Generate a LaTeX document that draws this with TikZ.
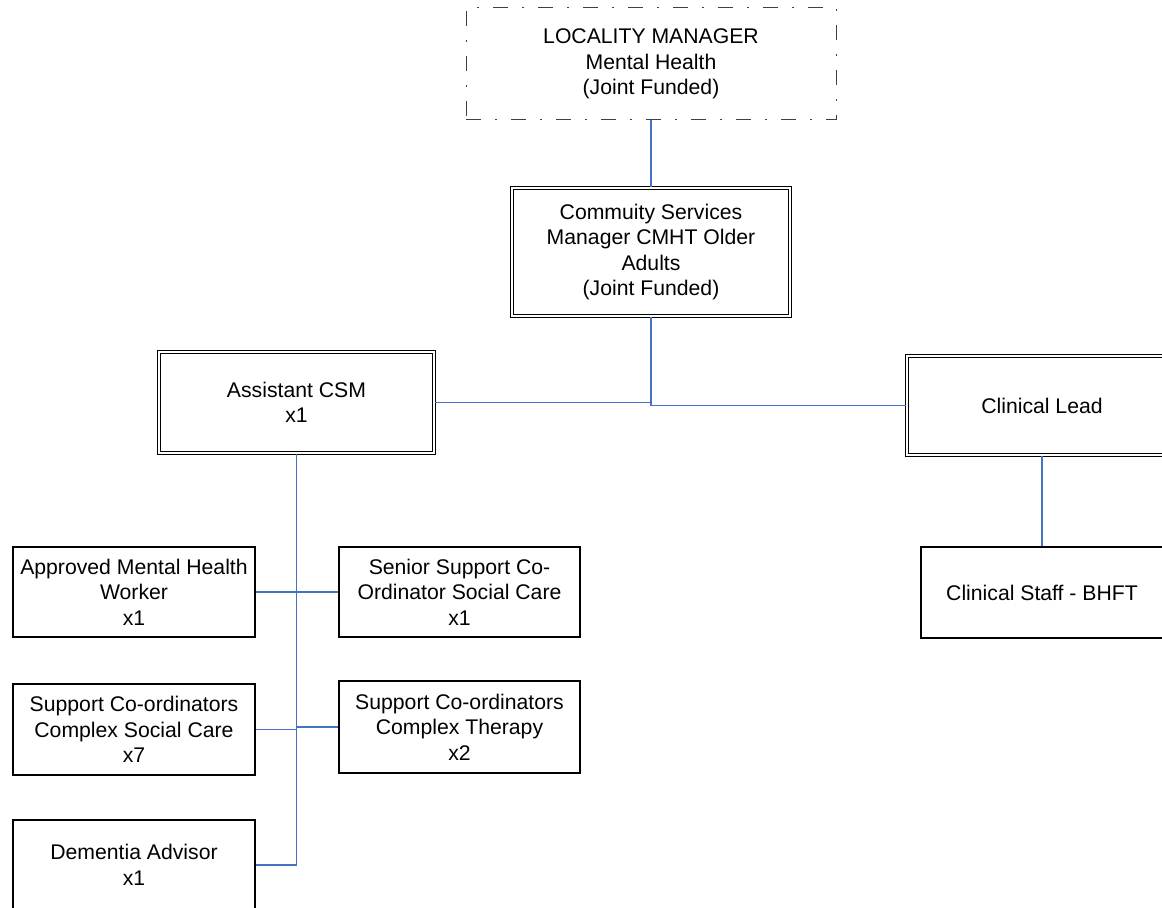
\documentclass[tikz,border=0pt]{standalone}
\usepackage{fontspec}
\setmainfont{Liberation Sans}
\usetikzlibrary{positioning}
\definecolor{linkblue}{RGB}{68,114,196}

\begin{document}
\begin{tikzpicture}[x=0.5pt, y=-0.5pt, node distance=60pt, on grid,
    font=\fontsize{10.6}{12.8}\selectfont,
    box/.style={draw, line width=0.7pt, align=center, inner sep=0pt,
      minimum width=121pt, minimum height=45pt},
    dbox/.style={box, double, double distance=1.2pt, line width=0.55pt},
    dashbox/.style={draw=black!75, line width=0.5pt, align=center,
      dash pattern=on 7.5pt off 7pt on 1pt off 7pt,
      minimum width=185pt, minimum height=56pt},
    link/.style={draw=linkblue, line width=0.8pt}]
  \useasboundingbox (0,0) rectangle (1162,908);%
  \node[dashbox] (loc) at (651,64) {LOCALITY MANAGER\\Mental Health\\(Joint Funded)};%
  \node[dbox, minimum width=139pt, minimum height=64pt] (csm) [below=94pt of loc]
    {Commuity Services\\Manager CMHT Older\\Adults\\(Joint Funded)};%
  \node[dbox, minimum width=137.5pt, minimum height=50.5pt] (acsm)
    [below left=75.25pt and 177.25pt of csm] {Assistant CSM\\x1};%
  \node[dbox, minimum width=135pt, minimum height=49.5pt] (lead)
    [below right=76.75pt and 195.5pt of csm] {Clinical Lead};%
  \node[box, minimum height=45.5pt] (staff) [below=93.5pt of lead] {Clinical Staff - BHFT};%
  \node[box] (amhw) [below left=94.75pt and 81.25pt of acsm]
    {Approved Mental Health\\Worker\\x1};%
  \node[box, minimum width=120.5pt] (ssc) [right=162.75pt of amhw]
    {Senior Support Co-\\Ordinator Social Care\\x1};%
  \node[box, minimum height=45.5pt] (scsc) [below=68.75pt of amhw]
    {Support Co-ordinators\\Complex Social Care\\x7};%
  \node[box, minimum width=120.5pt, minimum height=46pt] (scct) [below=67.5pt of ssc]
    {Support Co-ordinators\\Complex Therapy\\x2};%
  \node[box] (dem) [below=67.75pt of scsc] {Dementia Advisor\\x1};%
  \path[link] (loc) -- (csm);
  \path[link] (csm.south) |- (acsm.east);
  \path[link] (csm.south) |- (lead.west);
  \path[link] (lead) -- (staff);
  \path[link] (acsm.south) |- (dem.east);
  \path[link] (amhw) -- (ssc);
  \path[link] (acsm.south) |- (scsc.east);
  \path[link] (acsm.south) |- (scct.west);
\end{tikzpicture}
\end{document}
